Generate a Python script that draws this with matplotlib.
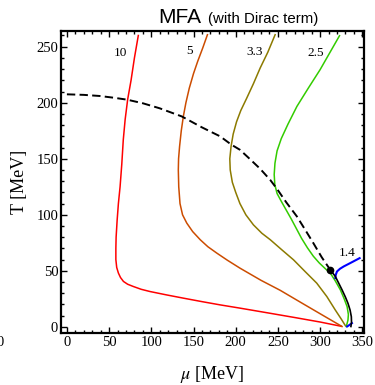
import numpy as np
import matplotlib
matplotlib.use("Agg")
import matplotlib.pyplot as plt
from matplotlib.ticker import MultipleLocator

plt.rcParams["mathtext.fontset"] = "stix"

# mu [MeV], T [MeV] along each isentrope, labelled by s/n
red_mu = [84.6, 80, 76, 72, 69, 66.8, 65, 63, 61, 59.5, 58.3, 58, 58, 59, 61, 63.5, 67, 72, 78.7, 88,
          98.5, 118, 138, 160, 181.5, 205, 240, 270, 300, 325]
red_T = [260, 240, 220, 203, 185, 167, 145, 125, 110, 95, 80, 70, 60, 53, 48, 44, 40.5, 38, 36, 33.5,
         31.5, 28.5, 25.6, 22.5, 19.6, 16.7, 12.2, 8.3, 4.3, 0.5]

orange_mu = [166.5, 161, 155, 150, 145, 141, 138, 135.5, 133.5, 132.3, 132, 132.5, 134, 137, 142, 149,
             158, 167, 177.6, 190, 205, 230, 252.7, 280, 305, 326]
orange_T = [260.7, 249, 237, 226, 213, 200, 188, 175, 161, 150, 140, 125, 110, 100, 92.6, 85, 77.7,
            71.5, 65.8, 59.5, 52.4, 41.5, 32.6, 20.5, 9.5, 0.3]

olive_mu = [246.7, 238, 229, 221, 213, 206, 201, 197, 194.5, 193, 193.5, 196, 200, 205, 212, 221, 231,
            241, 255, 268.5, 282, 296, 308, 318, 325, 330]
olive_T = [260.7, 245, 231, 217, 204, 193, 183, 172, 161, 150, 140, 129, 120, 110, 100, 91, 83.5,
           77.7, 68.5, 59.8, 49.5, 39, 27, 15, 7, 1]

green_mu = [323, 311, 300, 286, 272.5, 262, 254, 249, 246.5, 245.6, 246.3, 249, 254, 260, 266, 272,
            278, 285, 292, 299, 306, 312, 318, 324, 328.5, 332, 333.5, 333, 331]
green_T = [259.8, 244, 229.5, 213, 196.7, 181, 168, 157, 146, 136, 127, 119, 112, 104, 96, 87.5,
           79, 70.5, 63, 57, 52, 48, 41, 33, 25, 18, 11, 6, 0.3]

blue_up_mu = [318, 318.6, 320, 323.5, 328, 335.7, 341, 346.8]
blue_up_T = [43.5, 46.5, 49.4, 51.8, 53.9, 56.9, 59, 61.3]
blue_lo_mu = [332, 335, 337.7]
blue_lo_T = [0.3, 1.8, 3.3]

# crossover (dashed) and first-order line (solid), critical endpoint
cross_mu = [0, 20, 39, 55, 71.5, 90, 110, 136, 160, 181.5, 195, 205, 215, 229, 241, 249, 260, 272.5,
            282, 292, 302, 312]
cross_T = [207.5, 207, 206, 204.5, 202.7, 199.5, 195, 187.8, 178, 170, 162.5, 158, 151, 141, 131, 123,
           111, 98.5, 87, 74.7, 62, 50.9]
first_mu = [312, 315, 318, 322, 326, 330, 333, 335.5, 337, 337.2, 336.5]
first_T = [50.5, 48, 45, 39, 33, 26.5, 21, 15, 9, 4, 0.3]
cep = (312, 50.5)

labels = ["10", "5", "3.3", "2.5", "1.4"]
label_pos = [(63.7, 244), (145, 246.5), (222, 245), (295, 244), (332, 65.8)]

serif = "Liberation Serif"

fig = plt.figure(figsize=(3.75, 3.85), dpi=100)
ax = fig.add_axes([61 / 375, 1 - 333 / 385, 303 / 375, 302 / 385])

lw = 1.1
ax.plot(red_mu, red_T, color="#ff0000", lw=lw)
ax.plot(orange_mu, orange_T, color="#cc4c00", lw=lw)
ax.plot(olive_mu, olive_T, color="#8c7a00", lw=lw)
ax.plot(green_mu, green_T, color="#33cc00", lw=lw)
ax.plot(blue_up_mu, blue_up_T, color="#0000ff", lw=1.5)
ax.plot(blue_lo_mu, blue_lo_T, color="#0000ff", lw=1.5)
ax.plot(cross_mu, cross_T, color="black", lw=1.4, ls=(0, (4.3, 2.2)))
ax.plot(first_mu, first_T, color="black", lw=1.2)
ax.plot(*cep, "o", color="black", ms=4.5)

for lab, (x, y) in zip(labels, label_pos):
    ax.text(x, y, lab, fontsize=9.5, family=serif, ha="center", va="center")

ax.set_xlim(-7, 352)
ax.set_ylim(-5.5, 264)
ax.xaxis.set_major_locator(MultipleLocator(50))
ax.xaxis.set_minor_locator(MultipleLocator(10))
ax.yaxis.set_major_locator(MultipleLocator(50))
ax.yaxis.set_minor_locator(MultipleLocator(10))
ax.tick_params(which="both", direction="in", top=True, right=True, width=1.0)
ax.tick_params(which="major", length=4.5, labelsize=10.5, pad=2)
ax.tick_params(which="minor", length=2.5)
for lbl in ax.get_xticklabels() + ax.get_yticklabels():
    lbl.set_family(serif)
for sp in ax.spines.values():
    sp.set_linewidth(1.6)

ax.set_xlabel(r"$\mu$ [MeV]", fontsize=13, family=serif, labelpad=11)
ax.set_ylabel("T [MeV]", fontsize=13, family=serif, labelpad=6)

fig.text(158 / 375, 1 - 23 / 385, "MFA", fontsize=15, family="Liberation Sans", ha="left", va="baseline")
fig.text(208 / 375, 1 - 23 / 385, "(with Dirac term)", fontsize=10.8, family="Liberation Sans",
         ha="left", va="baseline")
# edge of the neighbouring panel's tick label
fig.text(0, 1 - 343 / 385, "0", fontsize=10.5, family=serif, ha="center", va="center")

fig.savefig("out.png", dpi=100)
